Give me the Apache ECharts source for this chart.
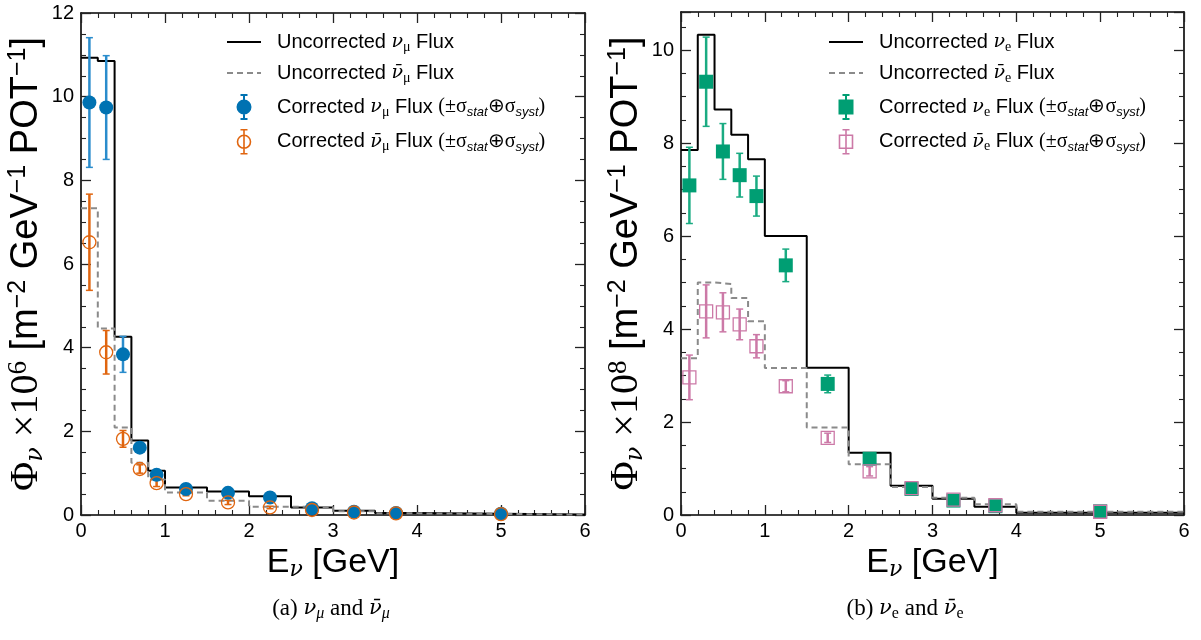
<!DOCTYPE html>
<html><head><meta charset="utf-8">
<script src="https://cdn.jsdelivr.net/npm/echarts@6/dist/echarts.min.js"></script>
<style>html,body{margin:0;padding:0;background:#fff}#c{width:1201px;height:640px}</style>
</head><body><div id="c"></div>
<script>
// ---- data ----
const binEdges = [0, 0.2, 0.4, 0.6, 0.8, 1.0, 1.5, 2.0, 2.5, 3.0, 3.5, 4.0, 6.0];
const pointE   = [0.1, 0.3, 0.5, 0.7, 0.9, 1.25, 1.75, 2.25, 2.75, 3.25, 3.75, 5.0];

const numuUncorr    = [10.93, 10.85, 4.26, 1.78, 1.06, 0.66, 0.56, 0.45, 0.18, 0.10, 0.05, 0.01];
const numubarUncorr = [7.33, 4.46, 2.09, 1.25, 0.85, 0.54, 0.34, 0.20, 0.19, 0.09, 0.04, 0.01];
const numuCorr      = [9.86, 9.74, 3.84, 1.61, 0.96, 0.62, 0.53, 0.42, 0.16, 0.08, 0.05, 0.03];
const numuErr       = [1.55, 1.24, 0.43, 0.07, 0.05, 0.04, 0.03, 0.03, 0.02, 0.02, 0.01, 0.01];
const numubarCorr   = [6.52, 3.89, 1.82, 1.10, 0.76, 0.50, 0.30, 0.18, 0.12, 0.06, 0.04, 0.02];
const numubarErr    = [1.15, 0.52, 0.20, 0.10, 0.08, 0.04, 0.05, 0.03, 0.02, 0.01, 0.01, 0.01];

const nueUncorr    = [7.85, 10.33, 8.72, 8.18, 7.65, 6.00, 3.17, 1.34, 0.63, 0.35, 0.18, 0.05];
const nuebarUncorr = [3.37, 5.00, 4.97, 4.67, 4.17, 3.16, 1.88, 1.09, 0.60, 0.37, 0.23, 0.07];
const nueCorr      = [7.09, 9.32, 7.82, 7.31, 6.86, 5.37, 2.82, 1.21, 0.56, 0.31, 0.19, 0.08];
const nueErr       = [0.82, 0.96, 0.60, 0.47, 0.43, 0.35, 0.19, 0.07, 0.05, 0.03, 0.02, 0.01];
const nuebarCorr   = [2.96, 4.38, 4.36, 4.10, 3.63, 2.77, 1.66, 0.94, 0.58, 0.33, 0.21, 0.07];
const nuebarErr    = [0.48, 0.57, 0.42, 0.33, 0.25, 0.12, 0.10, 0.10, 0.04, 0.03, 0.02, 0.01];

const xTicks = [0, 1, 2, 3, 4, 5, 6];
const yTicksLeft = [0, 2, 4, 6, 8, 10, 12];
const yTicksRight = [0, 2, 4, 6, 8, 10];

// ---- style ----
const C_BLUE = '#0072B2', C_BLUE_BAR = '#2a8ccc';
const C_ORANGE = '#E0650F';
const C_GREEN = '#009E73', C_GREEN_BAR = '#1aab82';
const C_PINK = '#CC79A7';
const SANS = 'Liberation Sans', SERIF = 'Liberation Serif';

const rich = {
  t:   {fontFamily: SANS, fontSize: 20, color: '#000', lineHeight: 24, verticalAlign: 'middle'},
  nu:  {fontFamily: 'DejaVu Serif', fontStyle: 'italic', fontSize: 19, color: '#000', lineHeight: 24, verticalAlign: 'middle'},
  sub: {fontFamily: SERIF, fontSize: 14, color: '#000', lineHeight: 14, verticalAlign: 'bottom'},
  s:   {fontFamily: SERIF, fontSize: 20, color: '#000', lineHeight: 24, verticalAlign: 'middle'},
  it:  {fontFamily: SANS, fontStyle: 'italic', fontSize: 13, color: '#000', lineHeight: 13, verticalAlign: 'bottom'}
};
const NUBAR = 'ν\u0304';
const errTxt = '{s|(±σ}{it|stat}{s|⊕σ}{it|syst}{s|)}';
const labels = {
  numuU:  '{t|Uncorrected }{nu|ν}{sub|μ}{t| Flux}',
  numubU: '{t|Uncorrected }{nu|' + NUBAR + '}{sub|μ}{t| Flux}',
  numuC:  '{t|Corrected }{nu|ν}{sub|μ}{t| Flux }' + errTxt,
  numubC: '{t|Corrected }{nu|' + NUBAR + '}{sub|μ}{t| Flux }' + errTxt,
  nueU:   '{t|Uncorrected }{nu|ν}{sub|e}{t| Flux}',
  nuebU:  '{t|Uncorrected }{nu|' + NUBAR + '}{sub|e}{t| Flux}',
  nueC:   '{t|Corrected }{nu|ν}{sub|e}{t| Flux }' + errTxt,
  nuebC:  '{t|Corrected }{nu|' + NUBAR + '}{sub|e}{t| Flux }' + errTxt
};

function hist(vals) {
  return binEdges.map((e, i) => [e, vals[Math.min(i, vals.length - 1)]]);
}
function stepSeries(name, vals, color, dashed, gi) {
  return {
    type: 'line', name, step: 'end', symbol: 'none', data: hist(vals),
    xAxisIndex: gi * 2, yAxisIndex: gi * 2, z: 3, silent: true,
    lineStyle: {color, width: 2, type: dashed ? [6, 4] : 'solid'},
    itemStyle: {color}
  };
}
function errSeries(name, ys, errs, color, width, gi) {
  return {
    type: 'custom', name, xAxisIndex: gi * 2, yAxisIndex: gi * 2, z: 4, silent: true,
    data: pointE.map((x, i) => [x, ys[i] - errs[i], ys[i] + errs[i]]),
    encode: {x: 0, y: [1, 2]},
    renderItem(params, api) {
      const x = api.value(0);
      const lo = api.coord([x, api.value(1)]);
      const hi = api.coord([x, api.value(2)]);
      const cw = 3.5;
      const st = {stroke: color, lineWidth: width};
      return {type: 'group', children: [
        {type: 'line', shape: {x1: lo[0], y1: lo[1], x2: hi[0], y2: hi[1]}, style: st},
        {type: 'line', shape: {x1: lo[0] - cw, y1: lo[1], x2: lo[0] + cw, y2: lo[1]}, style: {stroke: color, lineWidth: 1.5}},
        {type: 'line', shape: {x1: hi[0] - cw, y1: hi[1], x2: hi[0] + cw, y2: hi[1]}, style: {stroke: color, lineWidth: 1.5}}
      ]};
    }
  };
}
function markSeries(name, ys, symbol, color, open, gi) {
  return {
    type: 'scatter', name, symbol, symbolSize: open ? 13 : 14, z: 5, silent: true,
    xAxisIndex: gi * 2, yAxisIndex: gi * 2,
    data: pointE.map((x, i) => [x, ys[i]]),
    itemStyle: open ? {color: 'rgba(0,0,0,0)', borderColor: color, borderWidth: 1.3, opacity: 1}
                    : {color, borderWidth: 0, opacity: 1}
  };
}

const ICON_CIRC = 'path://M7,0 L7,24 M3.5,0 L10.5,0 M3.5,24 L10.5,24 M0.5,12 A6.5,6.5 0 1,1 13.5,12 A6.5,6.5 0 1,1 0.5,12 Z';
const ICON_SQ = 'path://M7,0 L7,24 M3.5,0 L10.5,0 M3.5,24 L10.5,24 M0.5,5.5 L13.5,5.5 L13.5,18.5 L0.5,18.5 Z';

function axesFor(gi, ymax, yTicks) {
  const common = {
    type: 'value', gridIndex: gi, splitLine: {show: false},
    axisLine: {show: true, onZero: false, lineStyle: {color: '#000', width: 1.6}},
    axisTick: {show: true, inside: true, length: 10, lineStyle: {color: '#222', width: 1.3}},
    minorTick: {show: true, length: 5, lineStyle: {color: '#222', width: 1.1}},
    minorSplitLine: {show: false}
  };
  const lab = {color: '#000', fontFamily: SANS, fontSize: 20};
  const xName = '{t|E}{sub|ν}{t| [GeV]}';
  const yName = '{sr|Φ}{sub|ν}{sr| ×10}{sups|' + (gi === 0 ? '6' : '8') + '}{t| [m}{sup|−2}{t| GeV}{sup|−1}{t| POT}{sup|−1}{t|]}';
  const nameRichX = {
    t: {fontFamily: SANS, fontSize: 34, color: '#000', lineHeight: 36, verticalAlign: 'middle'},
    sub: {fontFamily: 'DejaVu Serif', fontStyle: 'italic', fontSize: 22, color: '#000', lineHeight: 21, verticalAlign: 'bottom'}
  };
  const nameRichY = {
    t: {fontFamily: SANS, fontSize: 38, color: '#000', lineHeight: 42, verticalAlign: 'middle'},
    sr: {fontFamily: SERIF, fontSize: 40, color: '#000', lineHeight: 42, verticalAlign: 'middle'},
    sub: {fontFamily: 'DejaVu Serif', fontStyle: 'italic', fontSize: 24, color: '#000', lineHeight: 23, verticalAlign: 'bottom'},
    sup: {fontFamily: SANS, fontSize: 25, color: '#000', lineHeight: 23, verticalAlign: 'top'},
    sups: {fontFamily: SERIF, fontSize: 27, color: '#000', lineHeight: 23, verticalAlign: 'top'}
  };
  const xs = [
    Object.assign({}, common, {
      min: 0, max: 6, interval: 1, position: 'bottom',
      minorTick: Object.assign({}, common.minorTick, {splitNumber: 5}),
      axisLabel: Object.assign({margin: 6, formatter: v => xTicks.includes(v) ? String(v) : ''}, lab),
      name: xName, nameLocation: 'middle', nameGap: 23,
      nameTextStyle: {rich: nameRichX, verticalAlign: 'top'}
    }),
    Object.assign({}, common, {
      min: 0, max: 6, interval: 1, position: 'top',
      minorTick: Object.assign({}, common.minorTick, {splitNumber: 5}),
      axisLabel: {show: false}
    })
  ];
  const ys = [
    Object.assign({}, common, {
      min: 0, max: ymax, interval: 2, position: 'left',
      minorTick: Object.assign({}, common.minorTick, {splitNumber: 4}),
      axisLabel: Object.assign({margin: 7, showMaxLabel: ymax === 12,
        formatter: v => yTicks.includes(v) ? String(v) : ''}, lab),
      name: yName, nameLocation: 'middle', nameRotate: 90, nameGap: 30,
      nameTextStyle: {rich: nameRichY}
    }),
    Object.assign({}, common, {
      min: 0, max: ymax, interval: 2, position: 'right',
      minorTick: Object.assign({}, common.minorTick, {splitNumber: 4}),
      axisLabel: {show: false}
    })
  ];
  return {xs, ys};
}

const a0 = axesFor(0, 12, yTicksLeft);
const a1 = axesFor(1, 10.82, yTicksRight);

function legendFor(left, items) {
  return {
    orient: 'vertical', left, top: 27, itemWidth: 34, itemHeight: 24, itemGap: 9,
    selectedMode: false,
    textStyle: {rich, padding: [0, 0, 0, 11]},
    formatter: n => labels[n],
    data: items
  };
}

const option = {
  animation: false,
  backgroundColor: '#fff',
  grid: [
    {left: 81, right: 1201 - 585, top: 13, bottom: 640 - 515, outerBoundsMode: 'none', containLabel: false},
    {left: 681, right: 1201 - 1184, top: 12, bottom: 640 - 515, outerBoundsMode: 'none', containLabel: false}
  ],
  xAxis: [...a0.xs, ...a1.xs.map(a => Object.assign(a, {gridIndex: 1}))],
  yAxis: [...a0.ys, ...a1.ys.map(a => Object.assign(a, {gridIndex: 1}))],
  legend: [
    legendFor(221, [
      {name: 'numuU', itemStyle: {opacity: 0}}, {name: 'numubU', itemStyle: {opacity: 0}},
      {name: 'numuC', icon: ICON_CIRC, itemStyle: {color: C_BLUE, borderColor: C_BLUE, borderWidth: 2}},
      {name: 'numubC', icon: ICON_CIRC, itemStyle: {color: 'rgba(0,0,0,0)', borderColor: C_ORANGE, borderWidth: 1.6}}
    ]),
    legendFor(823, [
      {name: 'nueU', itemStyle: {opacity: 0}}, {name: 'nuebU', itemStyle: {opacity: 0}},
      {name: 'nueC', icon: ICON_SQ, itemStyle: {color: C_GREEN, borderColor: C_GREEN, borderWidth: 2}},
      {name: 'nuebC', icon: ICON_SQ, itemStyle: {color: 'rgba(0,0,0,0)', borderColor: C_PINK, borderWidth: 1.6}}
    ])
  ],
  series: [
    stepSeries('numuU', numuUncorr, '#000', false, 0),
    stepSeries('numubU', numubarUncorr, '#8a8a8a', true, 0),
    errSeries('numuC', numuCorr, numuErr, C_BLUE_BAR, 2.5, 0),
    markSeries('numuC', numuCorr, 'circle', C_BLUE, false, 0),
    errSeries('numubC', numubarCorr, numubarErr, C_ORANGE, 2.5, 0),
    markSeries('numubC', numubarCorr, 'circle', C_ORANGE, true, 0),

    stepSeries('nueU', nueUncorr, '#000', false, 1),
    stepSeries('nuebU', nuebarUncorr, '#8a8a8a', true, 1),
    errSeries('nueC', nueCorr, nueErr, C_GREEN_BAR, 2.5, 1),
    markSeries('nueC', nueCorr, 'rect', C_GREEN, false, 1),
    errSeries('nuebC', nuebarCorr, nuebarErr, C_PINK, 2.5, 1),
    markSeries('nuebC', nuebarCorr, 'rect', C_PINK, true, 1)
  ]
};

const capRich = {
  r: {fontFamily: SERIF, fontSize: 23, color: '#000', lineHeight: 26, verticalAlign: 'middle'},
  i: {fontFamily: 'DejaVu Serif', fontStyle: 'italic', fontSize: 21, color: '#000', lineHeight: 26, verticalAlign: 'middle'},
  s: {fontFamily: SERIF, fontStyle: 'italic', fontSize: 16, color: '#000', lineHeight: 16, verticalAlign: 'bottom'},
  se: {fontFamily: SERIF, fontSize: 16, color: '#000', lineHeight: 16, verticalAlign: 'bottom'}
};
option.graphic = [
  {type: 'text', x: 331, y: 609, style: {text: '{r|(a) }{i|ν}{s|μ}{r| and }{i|' + NUBAR + '}{s|μ}', rich: capRich, align: 'center', verticalAlign: 'middle'}},
  {type: 'text', x: 905, y: 609, style: {text: '{r|(b) }{i|ν}{se|e}{r| and }{i|' + NUBAR + '}{se|e}', rich: capRich, align: 'center', verticalAlign: 'middle'}}
];

const chart = echarts.init(document.getElementById('c'), null, {renderer: 'canvas'});
chart.setOption(option);
</script>
</body></html>
